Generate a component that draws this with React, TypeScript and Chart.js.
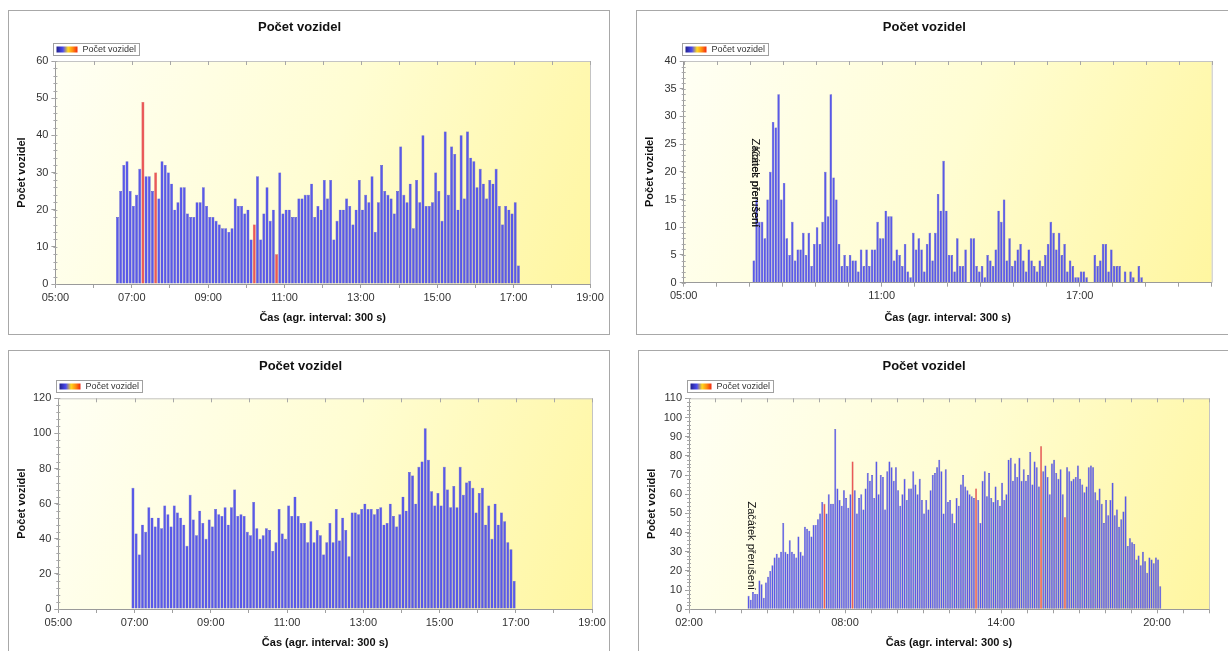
import React, { useEffect, useRef } from "react";
import { Chart, registerables } from "chart.js";

Chart.register(...registerables);

const FONT = "'Liberation Sans', Arial, sans-serif";
const CHART_TITLE = "Počet vozidel";
const X_AXIS_TITLE = "Čas (agr. interval: 300 s)";
const Y_AXIS_TITLE = "Počet vozidel";
const LEGEND_LABEL = "Počet vozidel";
const NOTE_START = "Začátek přerušení";
const NOTE_END = "Konec přerušení";
const INTERVAL_MIN = 5;

// ---------- top-left ----------
const TL_START = "06:35";
const TL_VALUES = [
  18, 25, 32, 33, 25, 21, 24, 31, 49, 29,
  29, 25, 30, 23, 33, 32, 30, 27, 20, 22,
  26, 26, 19, 18, 18, 22, 22, 26, 21, 18,
  18, 17, 16, 15, 15, 14, 15, 23, 21, 21,
  19, 20, 12, 16, 29, 12, 19, 26, 17, 20,
  8, 30, 19, 20, 20, 18, 18, 23, 23, 24,
  24, 27, 18, 21, 20, 28, 23, 28, 12, 17,
  20, 20, 23, 21, 16, 20, 28, 20, 24, 22,
  29, 14, 22, 32, 25, 24, 23, 19, 25, 37,
  24, 22, 27, 15, 28, 22, 40, 21, 21, 22,
  30, 25, 17, 41, 24, 37, 35, 20, 40, 23,
  41, 34, 33, 26, 31, 27, 23, 28, 27, 31,
  21, 16, 21, 20, 19, 22, 5,
];
const TL_RED = [8, 12, 43, 50];
const TL_X_RANGE = ["05:00", "19:00"];
const TL_X_LABELS = ["05:00", "07:00", "09:00", "11:00", "13:00", "15:00", "17:00", "19:00"];
const TL_Y_TICKS = [0, 10, 20, 30, 40, 50, 60];
const TL_Y_MINOR = 2;

// ---------- top-right ----------
const TR_START = "07:05";
const TR_VALUES = [
  4, 15, 11, 11, 8, 15, 20, 29, 28, 34,
  15, 18, 8, 5, 11, 4, 6, 6, 9, 5,
  9, 3, 7, 10, 7, 11, 20, 12, 34, 19,
  15, 7, 3, 5, 3, 5, 4, 4, 2, 6,
  3, 6, 3, 6, 6, 11, 8, 8, 13, 12,
  12, 4, 6, 5, 3, 7, 2, 1, 9, 6,
  8, 6, 2, 7, 9, 4, 9, 16, 13, 22,
  13, 5, 5, 2, 8, 3, 3, 6, 0, 8,
  8, 3, 2, 3, 1, 5, 4, 3, 6, 13,
  11, 15, 4, 8, 3, 4, 6, 7, 4, 2,
  6, 4, 3, 2, 4, 3, 5, 7, 11, 9,
  6, 9, 5, 7, 2, 4, 3, 1, 1, 2,
  2, 1, 0, 0, 5, 3, 4, 7, 7, 2,
  6, 3, 3, 3, 0, 2, 0, 2, 1, 0,
  3, 1,
];
const TR_RED: number[] = [];
const TR_X_RANGE = ["05:00", "21:00"];
const TR_X_LABELS = ["05:00", "11:00", "17:00"];
const TR_Y_TICKS = [0, 5, 10, 15, 20, 25, 30, 35, 40];
const TR_Y_MINOR = 1;
const TR_NOTES = [{ time: "07:05", level: 10, texts: [NOTE_START, NOTE_END] }];

// ---------- bottom-left ----------
const BL_START = "06:55";
const BL_VALUES = [
  69, 43, 31, 48, 44, 58, 52, 47, 52, 46,
  59, 54, 47, 59, 55, 52, 48, 36, 65, 51,
  42, 56, 49, 40, 51, 47, 57, 54, 53, 58,
  48, 58, 68, 53, 54, 53, 44, 42, 61, 46,
  40, 42, 46, 45, 33, 38, 57, 43, 40, 59,
  53, 64, 53, 49, 49, 38, 50, 38, 45, 42,
  31, 38, 49, 38, 57, 39, 52, 45, 30, 55,
  55, 54, 57, 60, 57, 57, 54, 57, 58, 48,
  49, 60, 53, 47, 54, 64, 56, 78, 76, 60,
  81, 84, 103, 85, 67, 59, 66, 59, 81, 68,
  58, 70, 58, 81, 65, 72, 73, 69, 55, 66,
  69, 48, 59, 40, 60, 48, 55, 50, 38, 34,
  16,
];
const BL_RED: number[] = [];
const BL_X_RANGE = ["05:00", "19:00"];
const BL_X_LABELS = ["05:00", "07:00", "09:00", "11:00", "13:00", "15:00", "17:00", "19:00"];
const BL_Y_TICKS = [0, 20, 40, 60, 80, 100, 120];
const BL_Y_MINOR = 4;

// ---------- bottom-right ----------
const BR_START = "04:15";
const BR_VALUES = [
  7, 5, 9, 8, 8, 15, 13, 6, 14, 17,
  20, 23, 27, 29, 27, 30, 45, 30, 29, 36,
  30, 29, 27, 38, 30, 28, 43, 42, 41, 38,
  44, 44, 47, 50, 56, 55, 50, 60, 55, 55,
  94, 63, 57, 54, 62, 58, 53, 60, 77, 62,
  50, 58, 60, 52, 63, 71, 67, 70, 58, 77,
  60, 70, 69, 52, 72, 77, 74, 67, 74, 62,
  54, 60, 68, 57, 63, 63, 72, 65, 60, 68,
  57, 50, 57, 52, 62, 70, 71, 74, 78, 72,
  50, 73, 56, 57, 50, 45, 58, 54, 65, 70,
  64, 62, 60, 59, 58, 63, 57, 45, 67, 72,
  59, 71, 58, 56, 64, 57, 54, 66, 57, 60,
  78, 79, 67, 76, 69, 79, 67, 73, 67, 70,
  82, 65, 77, 74, 64, 85, 72, 75, 69, 60,
  76, 78, 71, 68, 73, 60, 48, 74, 72, 67,
  68, 69, 75, 68, 65, 61, 64, 74, 75, 74,
  61, 57, 63, 55, 45, 57, 49, 57, 66, 49,
  52, 43, 47, 51, 59, 33, 37, 35, 34, 26,
  28, 23, 30, 25, 19, 27, 26, 24, 27, 26,
  12,
];
const BR_RED = [35, 48, 105, 135, 146];
const BR_X_RANGE = ["02:00", "22:00"];
const BR_X_LABELS = ["02:00", "08:00", "14:00", "20:00"];
const BR_Y_TICKS = [0, 10, 20, 30, 40, 50, 60, 70, 80, 90, 100, 110];
const BR_Y_MINOR = 2;
const BR_NOTES = [{ time: "04:15", level: 10, texts: [NOTE_START] }];

// ---------- helpers ----------
const toMin = (s: string) => {
  const [h, m] = s.split(":").map(Number);
  return h * 60 + m;
};
const fmt = (v: number) =>
  `${String(Math.floor(v / 60)).padStart(2, "0")}:${String(Math.round(v % 60)).padStart(2, "0")}`;

const BLUE = "#5959E8";
const BLUE_EDGE = "#4040C2";
const RED = "#EA5858";
const RED_EDGE = "#C83A3A";

type Note = { time: string; level: number; texts: string[] };
type PanelDef = {
  start: string;
  values: number[];
  red: number[];
  xRange: string[];
  xLabels: string[];
  yTicks: number[];
  yMinor: number;
  notes: Note[];
  box: { left: number; top: number; w: number; h: number };
  lay: {
    titleTop: number;
    titleBottom: number;
    yAxisW: number;
    padRight: number;
    xAxisH: number;
    xTitleBottom: number;
    yTitlePad: number;
  };
};

const PANELS: PanelDef[] = [
  {
    start: TL_START, values: TL_VALUES, red: TL_RED, xRange: TL_X_RANGE, xLabels: TL_X_LABELS,
    yTicks: TL_Y_TICKS, yMinor: TL_Y_MINOR, notes: [],
    box: { left: 8, top: 10, w: 600, h: 323 },
    lay: { titleTop: 9, titleBottom: 25.4, yAxisW: 46.4, padRight: 19, xAxisH: 50, xTitleBottom: 9.4, yTitlePad: 6.4 },
  },
  {
    start: TR_START, values: TR_VALUES, red: TR_RED, xRange: TR_X_RANGE, xLabels: TR_X_LABELS,
    yTicks: TR_Y_TICKS, yMinor: TR_Y_MINOR, notes: TR_NOTES,
    box: { left: 636, top: 10, w: 600, h: 323 },
    lay: { titleTop: 9, titleBottom: 25.4, yAxisW: 46.7, padRight: 25.3, xAxisH: 51.3, xTitleBottom: 9.4, yTitlePad: 6.4 },
  },
  {
    start: BL_START, values: BL_VALUES, red: BL_RED, xRange: BL_X_RANGE, xLabels: BL_X_LABELS,
    yTicks: BL_Y_TICKS, yMinor: BL_Y_MINOR, notes: [],
    box: { left: 8, top: 350, w: 600, h: 310 },
    lay: { titleTop: 8, titleBottom: 23.7, yAxisW: 49.3, padRight: 17, xAxisH: 52, xTitleBottom: 11.4, yTitlePad: 6.4 },
  },
  {
    start: BR_START, values: BR_VALUES, red: BR_RED, xRange: BR_X_RANGE, xLabels: BR_X_LABELS,
    yTicks: BR_Y_TICKS, yMinor: BR_Y_MINOR, notes: BR_NOTES,
    box: { left: 638, top: 350, w: 600, h: 310 },
    lay: { titleTop: 8, titleBottom: 23.7, yAxisW: 50, padRight: 30, xAxisH: 51.7, xTitleBottom: 11.4, yTitlePad: 6.4 },
  },
];

function makeDecor(p: PanelDef) {
  const xMin = toMin(p.xRange[0]);
  const xMax = toMin(p.xRange[1]);
  const yMax = p.yTicks[p.yTicks.length - 1];
  return {
    id: "panelDecor",
    beforeDraw(chart: any) {
      const { ctx, chartArea: a } = chart;
      const g = ctx.createLinearGradient(a.left, a.top, a.right, a.bottom);
      g.addColorStop(0, "#FFFFF4");
      g.addColorStop(0.5, "#FFFDD2");
      g.addColorStop(1, "#FFF6A0");
      ctx.save();
      ctx.fillStyle = g;
      ctx.fillRect(a.left, a.top, a.right - a.left, a.bottom - a.top);
      ctx.restore();
    },
    afterDatasetsDraw(chart: any) {
      const { ctx, chartArea: a, scales } = chart;
      ctx.save();
      ctx.strokeStyle = "#C4C4C4";
      ctx.lineWidth = 1;
      ctx.beginPath();
      ctx.moveTo(a.left, a.top + 0.5);
      ctx.lineTo(a.right + 0.5, a.top + 0.5);
      ctx.lineTo(a.right + 0.5, a.bottom);
      ctx.stroke();
      ctx.strokeStyle = "#A8A8A8";
      ctx.beginPath();
      for (let v = xMin; v <= xMax; v += 60) {
        const x = Math.round(scales.x.getPixelForValue(v)) + 0.5;
        ctx.moveTo(x, a.top);
        ctx.lineTo(x, a.top + 4);
      }
      for (let v = 0; v <= yMax; v += p.yMinor) {
        const y = Math.round(scales.y.getPixelForValue(v)) + 0.5;
        ctx.moveTo(a.left - 2, y);
        ctx.lineTo(a.left + 2, y);
      }
      ctx.stroke();
      ctx.restore();
    },
    afterDraw(chart: any) {
      const { ctx, chartArea: a, scales } = chart;
      ctx.save();
      // legend box
      ctx.font = `9px ${FONT}`;
      const tw = ctx.measureText(LEGEND_LABEL).width;
      const bx = Math.round(a.left) - 1.5;
      const by = Math.round(a.top) - 17.5;
      const bw = Math.round(29 + tw + 3);
      const bh = 12;
      ctx.fillStyle = "#FFFFFF";
      ctx.fillRect(bx, by, bw, bh);
      ctx.strokeStyle = "#A0A0A0";
      ctx.lineWidth = 1;
      ctx.strokeRect(bx, by, bw, bh);
      const sx = bx + 3;
      const sy = by + 3;
      const sg = ctx.createLinearGradient(sx, 0, sx + 21, 0);
      sg.addColorStop(0, "#20208A");
      sg.addColorStop(0.3, "#4A4AF0");
      sg.addColorStop(0.55, "#FFD820");
      sg.addColorStop(0.78, "#FF8A10");
      sg.addColorStop(1, "#F02810");
      ctx.fillStyle = sg;
      ctx.fillRect(sx, sy, 21, 6);
      ctx.fillStyle = "#333333";
      ctx.textBaseline = "middle";
      ctx.textAlign = "left";
      ctx.fillText(LEGEND_LABEL, bx + 29, by + bh / 2 + 0.5);
      // notes
      ctx.font = `11px ${FONT}`;
      ctx.fillStyle = "#111111";
      for (const n of p.notes) {
        const x = scales.x.getPixelForValue(toMin(n.time));
        const y = scales.y.getPixelForValue(n.level);
        for (const t of n.texts) {
          ctx.save();
          ctx.translate(x, y);
          ctx.rotate(Math.PI / 2);
          ctx.textAlign = "right";
          ctx.textBaseline = "alphabetic";
          ctx.fillText(t, 0, 0);
          ctx.restore();
        }
      }
      ctx.restore();
    },
  };
}

function buildConfig(p: PanelDef): any {
  const s0 = toMin(p.start);
  const xMin = toMin(p.xRange[0]);
  const xMax = toMin(p.xRange[1]);
  const labelSet = new Set(p.xLabels.map(toMin));
  const hours: number[] = [];
  for (let v = xMin; v <= xMax; v += 60) hours.push(v);
  const redSet = new Set(p.red);
  const pts = p.values.map((y, i) => ({ x: s0 + i * INTERVAL_MIN + INTERVAL_MIN / 2, y }));
  const L = p.lay;
  const tickFont = { family: FONT, size: 11 };
  const axisTitleFont = { family: FONT, size: 11, weight: "bold" as const, lineHeight: 1.2 };
  return {
    type: "bar",
    data: {
      datasets: [
        {
          label: LEGEND_LABEL,
          data: pts,
          backgroundColor: p.values.map((_, i) => (redSet.has(i) ? RED : BLUE)),
          borderColor: p.values.map((_, i) => (redSet.has(i) ? RED_EDGE : BLUE_EDGE)),
          borderWidth: 0.4,
          barPercentage: 0.92,
          categoryPercentage: 1,
        },
      ],
    },
    options: {
      animation: false,
      responsive: false,
      maintainAspectRatio: false,
      layout: { padding: { left: 0, right: L.padRight, top: 0, bottom: 0 } },
      plugins: {
        legend: { display: false },
        tooltip: { enabled: false },
        title: {
          display: true,
          text: CHART_TITLE,
          color: "#111111",
          font: { family: FONT, size: 13, weight: "bold", lineHeight: 1.2 },
          padding: { top: L.titleTop, bottom: L.titleBottom },
        },
      },
      scales: {
        x: {
          type: "linear",
          offset: false,
          min: xMin,
          max: xMax,
          afterBuildTicks: (s: any) => {
            s.ticks = hours.map((v) => ({ value: v }));
          },
          afterFit: (s: any) => {
            s.height = L.xAxisH;
          },
          ticks: {
            autoSkip: false,
            maxRotation: 0,
            minRotation: 0,
            padding: 3,
            color: "#333333",
            font: tickFont,
            callback: (v: number) => (labelSet.has(v) ? fmt(v) : ""),
          },
          grid: { offset: false, drawOnChartArea: false, drawTicks: true, tickLength: 4, color: "#A0A0A0", tickColor: "#A0A0A0" },
          border: { color: "#9A9A9A" },
          title: {
            display: true,
            text: X_AXIS_TITLE,
            color: "#111111",
            font: axisTitleFont,
            padding: { top: 0, bottom: L.xTitleBottom },
          },
        },
        y: {
          type: "linear",
          min: 0,
          max: p.yTicks[p.yTicks.length - 1],
          afterBuildTicks: (s: any) => {
            s.ticks = p.yTicks.map((v) => ({ value: v }));
          },
          afterFit: (s: any) => {
            s.width = L.yAxisW;
          },
          ticks: {
            padding: 3,
            color: "#333333",
            font: tickFont,
            callback: (v: number) => String(v),
          },
          grid: { drawOnChartArea: false, drawTicks: true, tickLength: 4, color: "#A0A0A0", tickColor: "#A0A0A0" },
          border: { color: "#9A9A9A" },
          title: {
            display: true,
            text: Y_AXIS_TITLE,
            color: "#111111",
            font: axisTitleFont,
            padding: { top: L.yTitlePad, bottom: 0 },
          },
        },
      },
    },
    plugins: [makeDecor(p)],
  };
}

function Panel({ p }: { p: PanelDef }) {
  const ref = useRef<HTMLCanvasElement>(null);
  useEffect(() => {
    if (!ref.current) return;
    const chart = new Chart(ref.current, buildConfig(p));
    return () => chart.destroy();
  }, [p]);
  return (
    <div
      style={{
        position: "absolute",
        left: p.box.left,
        top: p.box.top,
        width: p.box.w,
        height: p.box.h,
        border: "1px solid #A8A8A8",
        background: "#FFFFFF",
      }}
    >
      <canvas ref={ref} width={p.box.w} height={p.box.h} style={{ display: "block" }} />
    </div>
  );
}

export default function App() {
  return (
    <div
      style={{
        position: "absolute",
        left: 0,
        top: 0,
        width: 1228,
        height: 651,
        overflow: "hidden",
        background: "#FFFFFF",
      }}
    >
      {PANELS.map((p, i) => (
        <Panel key={i} p={p} />
      ))}
    </div>
  );
}
